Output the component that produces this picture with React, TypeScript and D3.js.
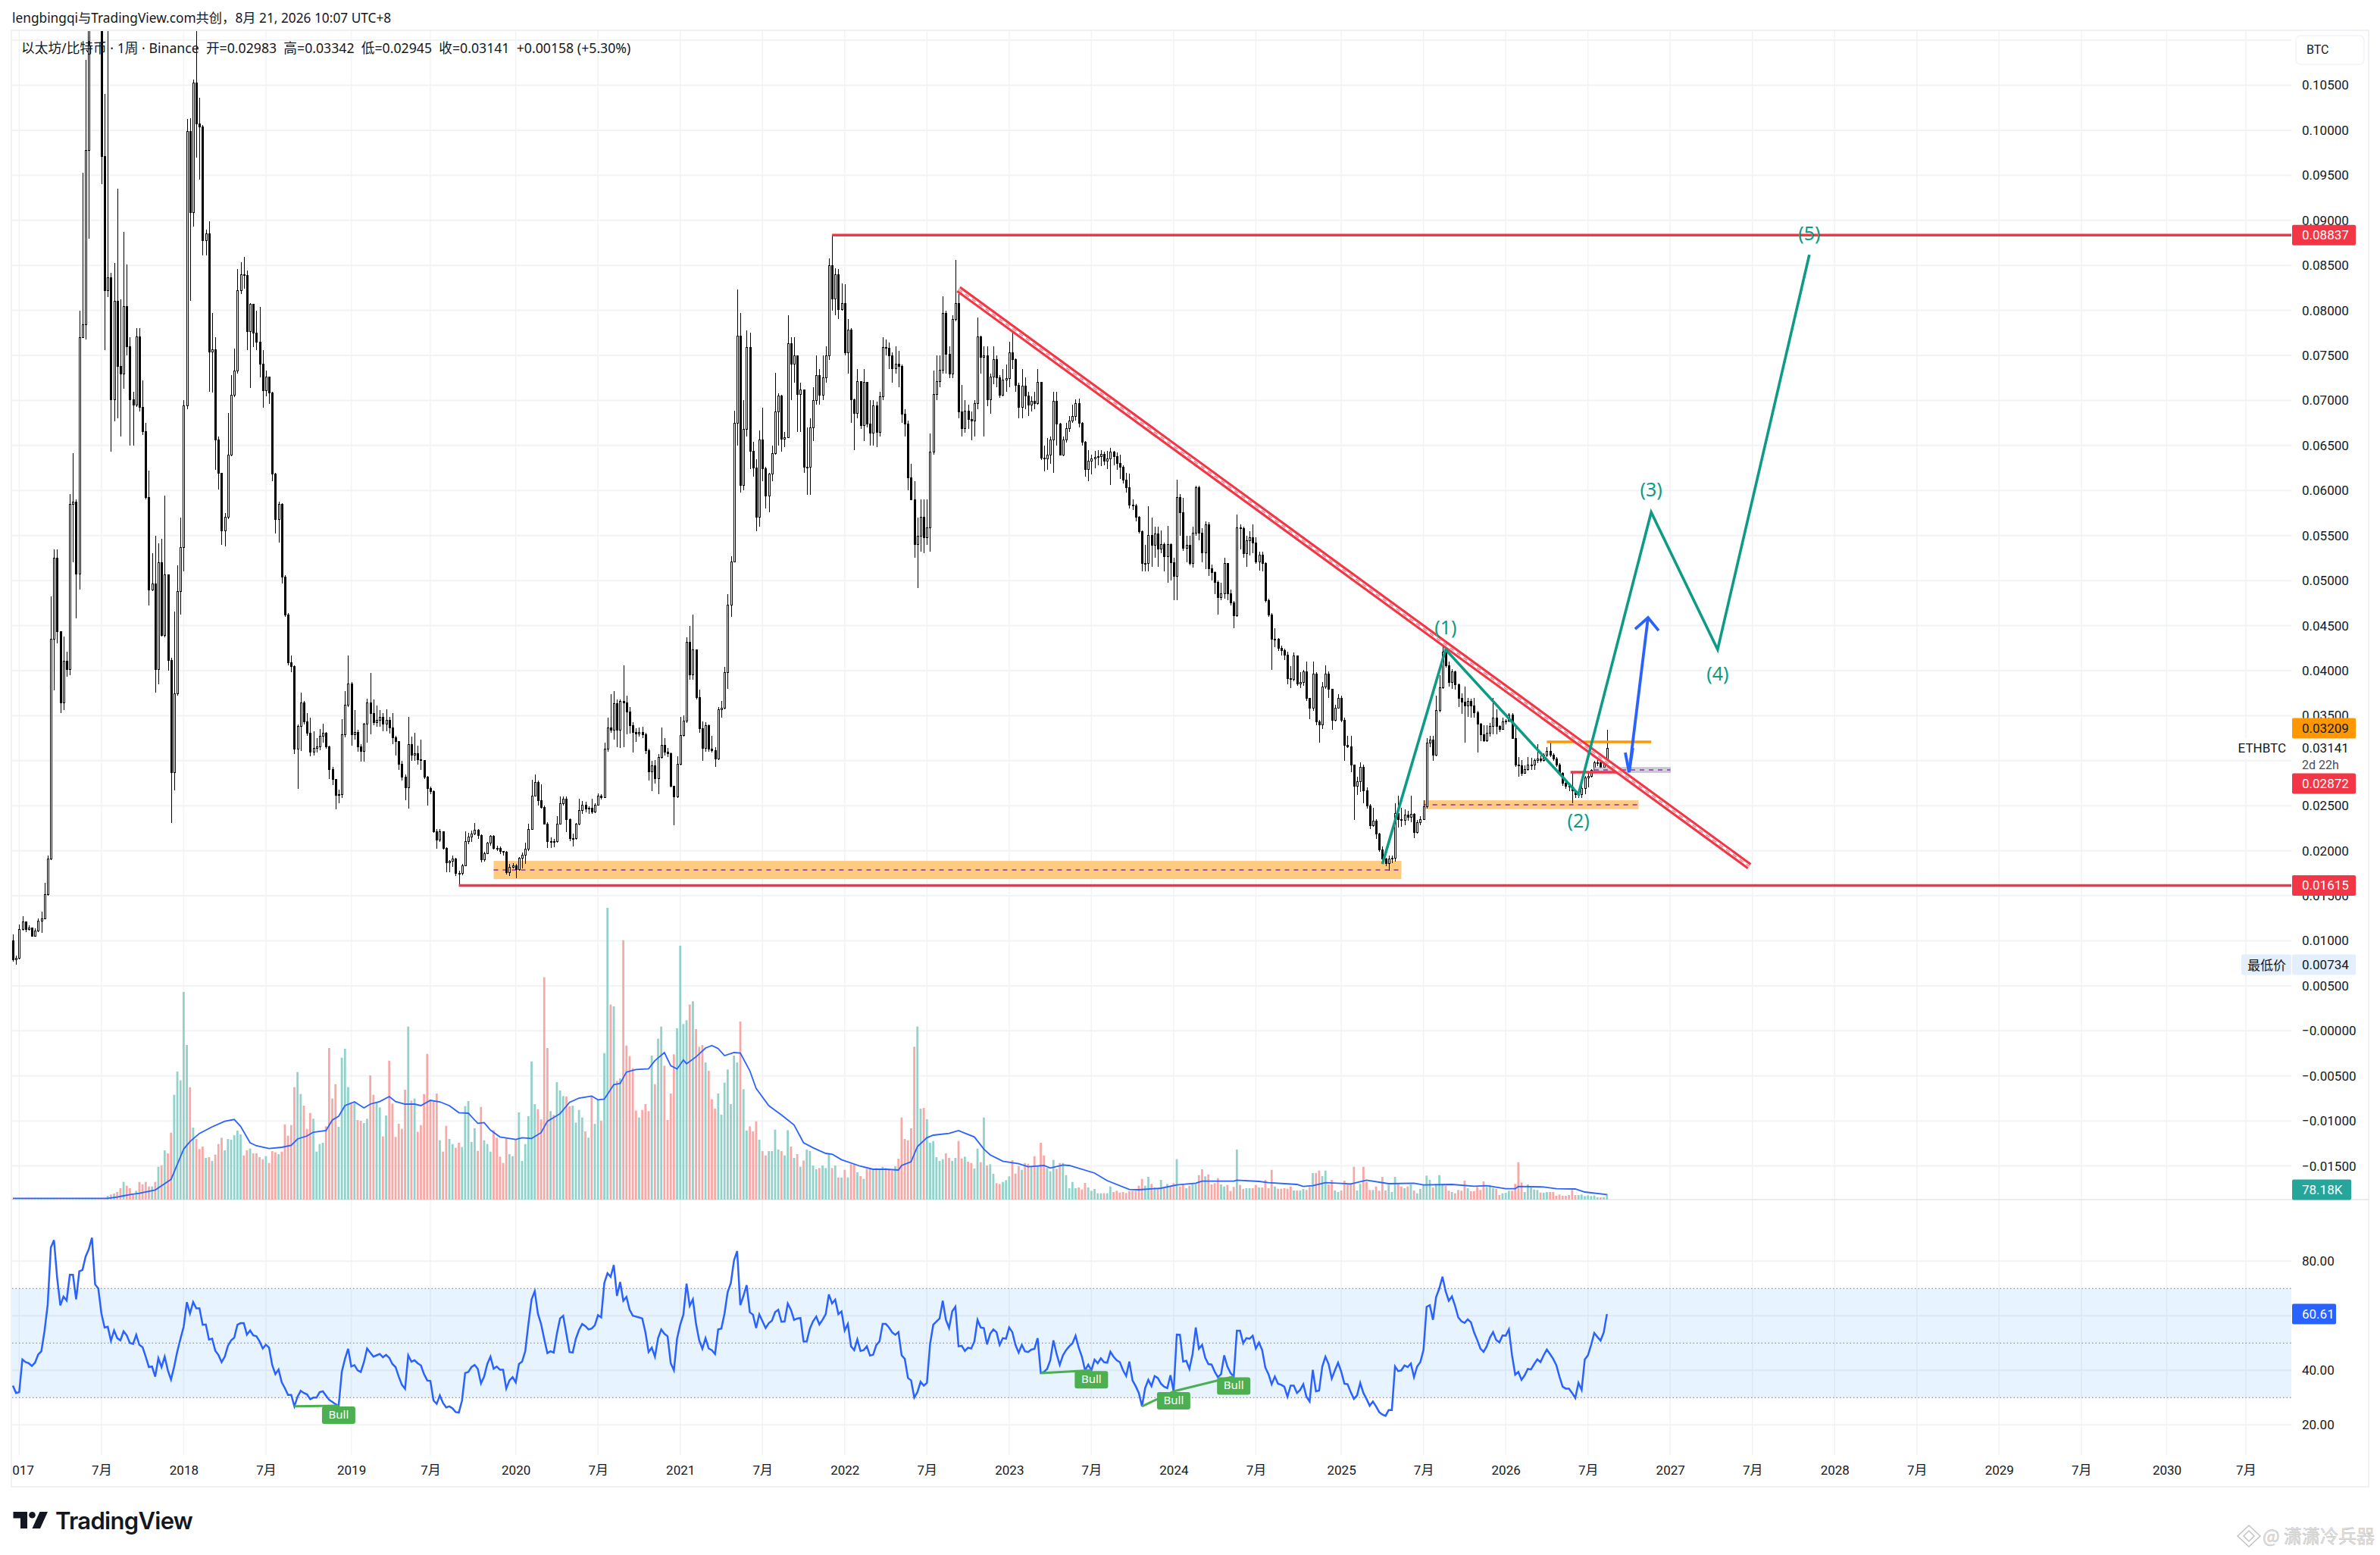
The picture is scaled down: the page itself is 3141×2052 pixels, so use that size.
import * as d3 from "d3";
import { useEffect, useRef } from "react";

const WIDTH = 3141;
const HEIGHT = 2052;
const PANE = { left: 16, right: 3024, top: 41, volBase: 1583, timeTop: 1920, bottom: 1962, frameRight: 3126 };
const UI_FONT = "'Noto Sans', 'Noto Sans CJK SC', sans-serif";
const AXIS_FONT = "Roboto, 'Noto Sans CJK SC', sans-serif";

const RED = "#f23645";
const ORANGE = "#ff9800";
const TEAL = "#0e9b85";
const BLUE = "#2962ff";
const GRID = "#f2f3f5";

// weekly closes / highs / lows, in 1e-5 BTC. open = previous close
const FIRST_OPEN = 1000;
const CLOSES = [
  790,805,1128,1208,1128,1140,1050,1110,1215,1245,1515,1911,4347,5250,4430,3640,4107,4010,5849,5870,
  5073,7697,7840,9775,11800,13500,14800,13500,9711,8223,8359,7006,8103,7380,7290,8047,7596,7006,6950,7709,
  6920,6657,5924,4896,4960,4010,5202,4387,5066,4113,2867,3743,4880,5363,6939,9989,9088,10527,10075,10040,
  8772,8850,7540,7560,6563,6188,5550,5706,6392,7059,7329,8223,8396,8390,7765,8066,7746,7650,7405,7108,
  7258,7087,6187,5680,5847,5040,4622,4091,4050,3125,3382,3640,3431,3302,3093,3140,3155,3270,3302,3157,
  2899,2793,2619,2625,3286,3618,3856,3286,3318,3157,3102,3405,3646,3527,3424,3446,3480,3405,3446,3366,
  3254,3210,2964,2819,2697,3180,3060,3080,3010,3000,2820,2690,2660,2213,2120,2215,2030,1870,1880,1905,
  1750,1745,1835,2105,2150,2190,2230,2170,1900,1965,2085,2165,2030,2025,1995,1985,1760,1820,1835,1790,
  1915,1950,2020,2240,2610,2760,2560,2480,2300,2105,2105,2100,2300,2522,2570,2350,2140,2140,2295,2450,
  2510,2460,2470,2430,2510,2610,2590,3125,3365,3340,3630,3340,3660,3640,3540,3390,3310,3300,3310,3290,
  3115,2875,2945,2800,3035,3168,3095,3075,2720,2600,2960,3280,3440,4316,3955,4230,3705,3360,3140,3390,
  3130,3110,3020,3565,3585,3980,4725,5208,6744,7716,6056,6683,7585,6432,6250,5706,6563,6244,5943,6180,
  6412,6871,7051,6570,6590,7634,7400,7500,7070,7120,6257,6260,6700,7000,7280,7060,7250,7500,8500,8130,
  8400,8010,8080,7530,7780,7010,6860,7210,6720,7200,6740,6640,6940,6650,7040,7590,7580,7500,7350,7400,
  7380,6850,6740,6140,5900,5400,5490,5700,5480,5590,6430,7063,7210,7340,7966,7516,7290,7900,8078,6870,
  6690,6880,6790,6770,6970,7710,7480,7500,7010,7260,7450,7250,7060,7230,7240,7530,7450,7170,6920,7160,
  7050,6950,6990,6970,7200,6360,6350,6390,6560,6990,6740,6395,6560,6690,6770,6820,6970,6750,6540,6230,
  6330,6350,6370,6380,6400,6330,6350,6430,6380,6300,6260,6120,6030,5840,5830,5700,5540,5190,5190,5500,
  5390,5520,5350,5400,5270,5400,5200,5050,5925,5750,5360,5390,5190,5530,6030,5530,5310,5620,5130,5090,
  4980,4810,4850,5190,4850,4750,4610,5585,5580,5300,5440,5480,5420,5210,5280,5190,4780,4620,4350,4350,
  4250,4220,4170,3910,3900,4160,3850,3870,3990,3690,3580,3960,3430,3400,3820,3960,3790,3447,3580,3690,
  3447,3175,3150,2950,2720,2765,2930,2670,2500,2275,2330,2185,2010,1910,1860,1910,1920,2415,2345,2340,
  2400,2375,2405,2205,2310,2345,2490,3200,3230,3060,3560,3810,4210,4055,3870,3985,3845,3690,3650,3605,
  3660,3605,3530,3410,3285,3220,3305,3380,3470,3380,3350,3430,3440,3505,3250,2950,2940,2860,2900,2950,
  2950,3000,3020,3000,3060,3100,3065,3020,2950,2860,2750,2720,2710,2665,2625,2625,2690,2807,2828,2890,
  2975,2980,2930,2983,3141,
];
const HIGHS = [
  1074,840,1177,1273,1210,1175,1150,1135,1250,1320,1644,1950,4822,5350,5347,4440,4380,4210,5960,6413,
  5900,8000,9531,10778,12500,14200,15500,15200,13800,10400,11200,8420,8524,9354,8120,8873,8509,7700,7100,7800,
  7800,7220,6750,6225,5300,5500,5411,5460,5943,5060,4140,4654,5170,5700,7000,10124,10130,10564,11600,10360,
  10060,8900,8986,7970,7700,6600,6200,5750,6864,7280,7577,8460,8535,8592,8440,8080,8070,8000,8040,7560,
  7330,7260,7100,6200,5880,5860,5060,4640,4170,4060,3400,3753,3660,3530,3480,3330,3250,3350,3410,3320,
  3170,2930,2800,2680,3460,3770,4171,3870,3560,3340,3180,3420,3690,3978,3680,3610,3560,3530,3570,3490,
  3530,3280,3220,3000,2850,3485,3270,3310,3170,3230,3010,2830,2710,2670,2240,2245,2220,2040,1900,1950,
  1920,1780,1850,2220,2200,2225,2305,2240,2180,1990,2100,2170,2175,2060,2050,2000,2000,1850,1860,1850,
  1930,1980,2090,2300,2790,2850,2780,2740,2500,2320,2150,2130,2380,2600,2600,2600,2360,2190,2310,2580,
  2550,2540,2490,2580,2530,2640,2630,3200,3480,3740,3770,3680,3680,4060,3720,3600,3430,3360,3370,3380,
  3310,3130,3000,3010,3070,3370,3250,3140,3090,2720,3045,3490,3500,4370,4500,4620,4230,3790,3440,3430,
  3400,3280,3150,3600,3660,4040,4850,5270,6890,8235,7970,7000,7780,7750,6540,6350,6670,6920,6260,6200,
  6500,7310,7080,7060,6650,7950,7700,7700,7200,7200,7100,6700,6800,7150,7500,7350,7500,7600,8580,8837,
  8470,8460,8300,8290,7900,7800,7020,7350,7200,7350,7200,7000,7000,6990,7100,7700,7680,7640,7530,7600,
  7550,7400,6900,6780,6300,6100,5700,5900,5900,5900,6630,7330,7500,7500,8160,8000,7600,7950,8563,8180,
  7170,7000,6950,6880,7000,7925,7720,7600,7600,7300,7600,7500,7280,7350,7400,7650,7800,7470,7200,7350,
  7260,7100,7050,7100,7350,7200,6500,6580,6600,7100,7100,6750,6600,6750,6830,6950,7010,7020,6760,6550,
  6450,6400,6440,6450,6450,6430,6440,6470,6440,6420,6400,6280,6200,6190,5900,5850,5720,5560,5400,5824,
  5700,5600,5600,5560,5420,5610,5410,5250,6120,5960,5920,5500,5500,5600,6050,6050,5580,5660,5650,5180,
  5100,5000,4980,5250,5190,4900,4770,5730,5620,5600,5500,5550,5620,5480,5320,5320,5200,4800,4640,4470,
  4360,4280,4240,4210,4050,4200,4170,3980,4010,4100,3700,4100,3980,3450,3870,4060,3990,3790,3620,3740,
  3720,3480,3280,3280,2950,2820,2980,2960,2700,2520,2480,2350,2200,2050,1925,1950,1945,2530,2610,2480,
  2460,2440,2610,2420,2340,2380,2560,3250,3280,3280,3720,3950,4340,4320,4100,4020,4000,3860,3750,3820,
  3700,3690,3700,3550,3420,3390,3390,3420,3700,3570,3390,3480,3460,3530,3530,3380,3040,3010,2950,3040,
  3030,3020,3180,3060,3080,3150,3210,3080,3040,2970,2870,2760,2740,2870,2680,2690,2770,2830,2860,2910,
  3000,3020,2990,3000,3342,
];
const LOWS = [
  770,736,790,1110,1100,1110,1045,1060,1100,1090,1240,1500,1900,3780,4300,3527,3560,3930,3950,5200,
  4583,4896,7700,7680,8800,11300,12800,12600,9400,7560,8150,6431,6770,6800,6600,7130,7500,6500,6500,6930,
  6880,6620,5900,4720,4880,3759,3849,4380,4370,4000,2310,2674,3720,4620,5105,6900,8103,8930,9700,9450,
  8610,8610,7100,7090,6230,6010,5400,5380,5680,6380,7040,7300,8180,8240,7560,7140,7590,7560,7260,6920,
  7050,6960,6100,5520,5420,4970,4600,4060,3980,3070,2690,3110,3400,3280,3050,3060,3090,3120,3200,3130,
  2800,2730,2460,2530,2590,3260,3600,3170,3230,3100,2990,2990,3200,3290,3390,3380,3380,3330,3330,3300,
  3180,3060,2900,2780,2560,2470,3000,3000,2960,2900,2800,2500,2630,2200,2020,2100,2015,1760,1760,1820,
  1720,1615,1730,1825,2070,2100,2170,2130,1870,1880,1960,2060,2010,2000,1960,1950,1740,1720,1800,1690,
  1780,1800,1850,2000,2230,2600,2500,2470,2290,2030,2030,2040,2090,2290,2500,2210,2110,2050,2120,2280,
  2410,2430,2410,2410,2420,2500,2570,2590,3100,3310,3230,3150,3140,3150,3290,3300,3090,3210,3270,3250,
  3070,2780,2660,2750,2630,3020,3060,3040,2700,2280,2590,2950,3270,3420,3900,3900,3680,3310,3000,3100,
  3100,3090,2930,3010,3480,3570,3800,4600,5200,6500,5980,6000,6600,6240,6150,5550,5600,6100,5800,5760,
  6100,6400,6500,6430,6480,6580,7000,7200,6650,6650,6200,5950,5950,6550,6950,6950,7000,7200,7450,8000,
  7950,7900,8000,7500,7300,6750,6450,6800,6680,6550,6700,6500,6500,6480,6600,7000,7500,7350,7200,7300,
  7150,6750,6600,6000,5900,5250,4916,5320,5300,5400,5320,6400,7000,7150,7300,7300,7250,7250,7880,6800,
  6600,6640,6680,6560,6600,6900,7300,6600,6940,6850,7180,7150,7030,7050,7100,7150,7350,7100,6800,6800,
  6900,6830,6880,6900,6950,6340,6210,6230,6300,6200,6500,6390,6380,6530,6650,6750,6780,6700,6500,6150,
  6100,6180,6250,6280,6270,6280,6240,6060,6280,6230,6130,6080,5980,5800,5780,5660,5520,5100,5100,5100,
  5150,5250,5150,5300,5100,4975,5000,4780,4780,5500,5330,5200,5170,5140,5500,5450,5200,5130,5050,5000,
  4850,4620,4780,4800,4780,4720,4470,4600,5350,5250,5150,5280,5300,5190,5110,5100,4760,4600,4010,4260,
  4220,4170,4120,3850,3810,3880,3830,3810,3830,3660,3460,3550,3390,3200,3350,3800,3700,3340,3440,3580,
  3430,3000,3140,2870,2340,2620,2650,2530,2470,2240,2270,2130,1990,1880,1830,1780,1860,1880,2260,2270,
  2280,2330,2320,2140,2190,2280,2340,2470,3150,3000,3050,3540,3800,4030,3820,3800,3790,3600,3520,3200,
  3490,3480,3480,3090,3220,3210,3210,3270,3290,3290,3320,3350,3400,3430,3240,2930,2820,2830,2860,2890,
  2900,2900,2970,2980,2990,3040,3040,3000,2930,2840,2720,2690,2660,2530,2590,2590,2590,2630,2700,2810,
  2880,2940,2910,2900,2945,
];

// volume in units of about 3.55K (last bar = 78.18K)
const VOLUMES = [
  2,2,2,2,2,2,2,2,2,2,2,2,2,2,2,2,2,2,2,2,
  2,2,2,2,2,2,2,2,2,2,15,20,24,30,45,70,55,45,24,35,
  70,60,70,52,52,70,130,135,195,183,265,415,507,472,822,612,445,285,240,200,
  210,165,168,153,178,220,245,195,240,237,255,273,258,175,195,202,183,183,168,160,
  172,145,192,187,180,190,298,253,295,445,505,418,372,280,343,320,190,220,225,290,
  600,400,457,288,562,597,445,385,385,315,312,303,320,492,415,385,365,250,333,550,
  380,248,300,280,435,685,392,400,268,295,418,577,395,390,420,235,190,292,240,220,
  205,225,208,370,390,228,282,193,367,235,220,190,275,245,170,145,242,180,172,240,
  345,153,220,330,547,378,358,318,880,600,350,335,465,432,410,408,370,372,305,355,
  325,270,245,410,300,395,312,580,1155,772,765,470,480,1027,610,568,520,352,325,355,
  378,350,570,457,637,685,530,315,420,575,678,1005,695,710,772,785,675,605,612,543,
  510,397,360,420,336,463,515,378,570,543,705,437,273,290,270,310,237,192,175,192,
  192,277,198,192,175,275,210,165,180,130,155,198,192,135,120,125,135,125,180,125,
  135,87,87,118,88,140,138,108,93,82,122,122,120,125,120,130,125,122,115,132,
  162,325,240,235,282,605,685,360,363,318,225,232,168,153,160,183,165,153,165,232,
  163,170,150,145,123,202,148,325,135,140,102,65,62,70,77,92,156,103,133,118,
  145,142,130,172,133,225,175,125,112,157,122,145,145,97,45,70,45,48,40,66,
  48,35,42,25,25,25,25,52,30,35,28,30,26,34,35,35,55,82,55,90,
  62,48,45,78,45,62,55,65,160,52,60,45,55,62,62,97,120,92,100,60,
  65,85,60,52,58,34,50,198,58,42,45,45,45,58,48,48,78,45,118,52,
  43,43,45,43,52,36,36,36,42,38,50,105,105,115,93,115,60,78,36,30,
  36,75,60,65,130,36,62,130,70,38,38,52,35,90,36,58,30,90,62,52,
  45,52,60,36,25,42,60,95,78,48,62,97,62,55,35,30,25,38,35,75,
  45,33,33,50,38,72,50,58,45,42,18,25,27,35,35,62,148,68,30,60,
  48,40,38,28,27,30,30,30,15,20,15,15,18,38,18,18,20,14,17,14,
  16,9,9,9,22,
];

// volume moving average, read at its turning points: bar index, value
const VOL_MA_BARS = [0,30,33,35,37,40,45,47,50,52,54,56,59,63,67,70,72,75,77,81,85,88,90,93,95,99,101,103,105,108,111,113,116,119,121,124,127,129,132,135,138,141,144,146,147,149,151,154,159,161,164,167,169,173,176,179,183,185,187,190,192,194,197,201,203,206,208,210,212,213,216,219,221,223,225,228,230,233,235,239,243,247,250,253,257,259,262,268,272,276,280,281,284,286,289,291,296,299,304,307,309,313,318,321,326,328,332,334,342,346,353,356,363,368,374,376,386,387,394,397,406,408,411,415,423,428,435,443,446,455,462,466,472,475,476,484,488,494,497,504];
const VOL_MA_VALUES = [5,5,10,15,20,25,38,55,80,140,200,230,262,288,310,317,290,225,213,202,207,215,240,252,267,273,315,330,372,387,363,378,388,408,388,378,378,372,393,387,372,344,342,315,302,305,275,248,238,245,242,265,310,340,385,402,410,395,398,455,460,505,515,518,550,582,530,517,553,538,565,600,610,598,570,582,580,510,440,372,335,295,225,205,183,180,158,132,120,120,117,135,150,210,245,255,262,273,248,200,177,152,142,130,135,125,137,135,105,75,40,39,45,58,65,73,73,77,72,67,60,52,55,67,62,77,63,65,58,60,53,55,43,43,52,50,43,42,30,20];

const RSI = [
  34.4,31.7,32,44,43,42.6,41.6,42.8,45.8,47,54.4,64,85,87.7,73.8,63.8,67,65.6,75,75,
  66,76.3,76.8,81.7,84.4,88.6,71.5,70,60.8,55.7,56,50.8,54.6,51.8,51,54.3,52.8,50,49.7,53,
  49.3,48.5,45,41.2,41.4,37.7,44.4,41.2,45,40,36.6,41.4,47,51.6,56,65,60.8,65,62.7,62.7,
  56.7,56.8,51.3,51.6,47.2,45.6,43,45,49,51,52,56.7,57.3,57.3,53.1,54.6,52.8,52.5,50.6,48,
  49.4,48.3,41.9,38.6,40.3,35.6,33.5,31,31,26.8,30.3,32.5,31.7,31.2,29.4,30,30,32,32.3,30.7,
  29.2,28.4,27.6,27,39.5,44.2,47.9,41.4,41.9,40,39.4,43,48,46.5,45,45.5,46,44.8,45.7,44.6,
  42.3,41.2,37.7,34.7,33.2,45.5,43.2,43.7,42.6,41.8,38.6,36.3,36.1,28.9,27.7,30.8,28,26.4,26.8,26.1,
  24.7,24.5,28.9,39,39.4,41.2,42,40.5,35.2,37.7,42.3,45,40.6,41.4,40.2,40.2,33.3,36.3,37.5,35.6,
  42.3,43.2,47,57,66,69,60.8,57,51.5,46.3,47,46.5,53.4,59,60,53.4,46.7,46.5,51.6,54.8,
  57,56.2,55,55.3,56.5,60.2,59.4,72,75.6,74.3,78.6,67.3,72.4,65.5,66.9,62.2,60,59.7,59.4,59,
  53.9,46.7,48.3,45,51.8,55,53.4,52.5,42.6,40,51.6,56.7,60.4,71.8,63.6,66,57,51,47.9,51.8,
  48,47.4,46,55,55.3,60.8,68.7,72,80.3,83.7,63.9,67.3,71.2,61.3,60.4,55.5,60.5,58,55.5,57.3,
  58.2,61.3,62.2,57.8,57.9,64.5,62.2,58.5,59,59.2,50.6,50.6,55.3,58,59.7,56.8,58.5,60.6,67.8,64.5,
  65.9,60.6,61.6,54.6,57,48.8,47.4,51.3,47.1,47.4,48.8,45.4,45.7,49.3,50.6,57,57,55.7,53.9,53,
  54,45.5,44.2,37.2,36.3,30,32,35.8,34.4,35.4,49.7,56.7,57.9,59,65.5,58.5,55.5,61.6,63.3,48.8,
  49,47.1,48.3,48,50.6,58.5,55.7,55.5,49.5,53.4,55,54,49.3,51.8,51.6,55.7,54,49.3,46.5,49.3,
  47,46.7,47.6,47.9,51.8,39,39.4,40.5,43.7,51,46,42,45.5,47.4,48.8,49.9,52.7,48.3,45,40,
  42.1,40,43.9,42.6,44.4,43,42.8,46.8,45,43.7,43,40,37.9,43.2,36.3,34.2,31.7,26.8,33.5,36.5,
  34.2,37.9,37.2,35.1,34,33.5,38.2,32.3,53.1,53,43.2,43.5,40.5,46,55.7,47.9,49.3,44.6,42.3,42.1,
  39.5,37.5,38.6,45.5,41.4,39,37.7,54.5,54.5,49.9,51.8,51.6,52.7,48,50.2,47.4,41,38.6,34.9,37.7,
  35.1,34.7,34,30.3,34.4,34.4,31.7,32.8,34.9,30.3,28.6,40.2,32.3,32.6,41.4,45,42.3,37,40,42.8,
  39.5,35.1,34.9,32,29.5,30.8,35.4,31.7,29.5,27,28.6,26.8,24.7,23.8,23.3,25.4,25.4,41.4,39.7,40,
  41.8,41.2,42.5,37.5,41.4,43,47.4,63.3,63.9,58.5,66.9,70,74.3,69,65.5,67.1,63.6,59.4,58,57.4,
  58.7,57.6,53.9,51.1,48,46.8,48.8,52,54,51.1,50.2,52.8,52.7,55,45.5,38.4,39.4,36.5,38.2,40.5,
  40.3,42.3,44,43,45.5,47.6,46,44.2,41.9,37.7,34,33.3,33.3,31.7,29.8,35.4,32.8,44,45.5,49.3,
  53.7,52.2,50.9,53.9,60.61,
];

// pivots of the bullish divergences, bar indexes into RSI
const BULL_FROM = [89, 325, 357, 367];
const BULL_TO = [103, 341, 367, 386];

const PRICE_TICKS = [0.105,0.1,0.095,0.09,0.085,0.08,0.075,0.07,0.065,0.06,0.055,0.05,0.045,0.04,0.035,0.03,0.025,0.02,0.015,0.01,0.005,0,-0.005,-0.01,-0.015];
const RSI_TICKS = [80, 60, 40, 20];
const TIME_TICKS = [2,28,54,80,107,132,159,185,211,237,263,289,315,341,367,393,420,446,472,498,524,550,576,602,628,654,681,706];
const TIME_LABELS = ["2017","7月","2018","7月","2019","7月","2020","7月","2021","7月","2022","7月","2023","7月","2024","7月","2025","7月","2026","7月","2027","7月","2028","7月","2029","7月","2030","7月"];

// drawings, bar index and price (1e-5 BTC)
const TOP_LINE = { from: 259, price: 8837 };
const BOTTOM_LINE = { from: 141, price: 1615 };
const TREND_BARS = [299, 549];
const TREND_PRICES = [8236, 1828];
const WAVE_BARS = [433, 453, 495, 518, 539, 568];
const WAVE_PRICES = [1853, 4235, 2627, 5758, 4235, 8619];
const WAVE_NAMES = ["(1)", "(2)", "(3)", "(4)", "(5)"];
const WAVE_NAME_BARS = [453, 495, 518, 539, 568];
const WAVE_NAME_PRICES = [4460, 2315, 5995, 3950, 8835];
const ZONE_BARS = [[152, 439], [446, 514]];
const ZONE_PRICES = [[1887, 1685], [2560, 2462]];
const GREY_BARS = [500, 524];
const GREY_PRICES = [2922, 2872];
const ORANGE_LINE = { from: 485, to: 518, price: 3209 };
const RED_SHORT = { from: 492.5, to: 507, price: 2872 };
const ARROW_BARS = [517, 511];
const ARROW_PRICES = [4588, 2872];

export default function App() {
  const svgRef = useRef<SVGSVGElement>(null);

  useEffect(() => {
    if (!svgRef.current) return;
    const svg = d3.select(svgRef.current);
    svg.selectAll("*").remove();

    const x = d3.scaleLinear().domain([0, 720.4]).range([17, PANE.right]);
    const y = d3.scaleLinear().domain([-1500, 10500]).range([1538.6, 112.5]);
    const yPrice = d3.scaleLinear().domain([-0.015, 0.105]).range([1538.6, 112.5]);
    const yVol = d3.scaleLinear().domain([0, 1155]).range([PANE.volBase, 1198]);
    const yRsi = d3.scaleLinear().domain([20, 80]).range([1880.3, 1664.3]);

    const defs = svg.append("defs");
    defs.append("clipPath").attr("id", "main").append("rect")
      .attr("x", PANE.left).attr("y", PANE.top).attr("width", PANE.right - PANE.left).attr("height", PANE.volBase - PANE.top);
    defs.append("clipPath").attr("id", "time").append("rect")
      .attr("x", PANE.left).attr("y", PANE.timeTop).attr("width", PANE.frameRight - PANE.left).attr("height", 42);

    svg.append("rect").attr("width", WIDTH).attr("height", HEIGHT).attr("fill", "#fff");

    // grid
    const grid = svg.append("g");
    [...PRICE_TICKS, 0.11].forEach((t) => {
      grid.append("line").attr("x1", PANE.left).attr("x2", PANE.right).attr("y1", yPrice(t)).attr("y2", yPrice(t))
        .attr("stroke", GRID).attr("stroke-width", 2);
    });
    RSI_TICKS.forEach((t) => {
      grid.append("line").attr("x1", PANE.left).attr("x2", PANE.right).attr("y1", yRsi(t)).attr("y2", yRsi(t))
        .attr("stroke", GRID).attr("stroke-width", 2);
    });
    TIME_TICKS.forEach((t) => {
      grid.append("line").attr("x1", x(t)).attr("x2", x(t)).attr("y1", PANE.top).attr("y2", PANE.timeTop)
        .attr("stroke", GRID).attr("stroke-width", 1.5);
    });

    // frame
    svg.append("rect").attr("x", 15).attr("y", 40).attr("width", PANE.frameRight - 15).attr("height", PANE.bottom - 40)
      .attr("fill", "none").attr("stroke", "#f0f1f3").attr("stroke-width", 2);
    svg.append("line").attr("x1", 15).attr("x2", PANE.frameRight).attr("y1", PANE.volBase).attr("y2", PANE.volBase)
      .attr("stroke", "#e3e5ea").attr("stroke-width", 1.5);

    const main = svg.append("g").attr("clip-path", "url(#main)");

    // volume
    main.append("g").selectAll("rect").data(VOLUMES).join("rect")
      .attr("x", (_, i) => x(i) - 1.4)
      .attr("width", 2.8)
      .attr("y", (d) => yVol(d))
      .attr("height", (d) => PANE.volBase - yVol(d))
      .attr("fill", (_, i) => (CLOSES[i] >= (i ? CLOSES[i - 1] : FIRST_OPEN) ? "#92d2ca" : "#f7a9a7"));
    const maLine = d3.line<number>().x((_, i) => x(VOL_MA_BARS[i])).y((d) => yVol(d));
    main.append("path").attr("d", maLine(VOL_MA_VALUES)).attr("fill", "none").attr("stroke", BLUE).attr("stroke-width", 1.8);

    // zones below the candles
    ZONE_BARS.forEach((b, k) => {
      main.append("rect").attr("x", x(b[0])).attr("width", x(b[1]) - x(b[0]))
        .attr("y", y(ZONE_PRICES[k][0])).attr("height", y(ZONE_PRICES[k][1]) - y(ZONE_PRICES[k][0]))
        .attr("fill", "#ffcb80");
      const mid = (ZONE_PRICES[k][0] + ZONE_PRICES[k][1]) / 2;
      main.append("line").attr("x1", x(b[0])).attr("x2", x(b[1])).attr("y1", y(mid)).attr("y2", y(mid))
        .attr("stroke", "#9c27b0").attr("stroke-width", 1.5).attr("stroke-dasharray", "6 6");
    });

    // candles
    const candles = main.append("g").attr("shape-rendering", "crispEdges");
    candles.selectAll("line").data(CLOSES).join("line")
      .attr("x1", (_, i) => Math.round(x(i)) + 0.5).attr("x2", (_, i) => Math.round(x(i)) + 0.5)
      .attr("y1", (_, i) => y(HIGHS[i])).attr("y2", (_, i) => y(LOWS[i]))
      .attr("stroke", "#000").attr("stroke-width", 1);
    candles.selectAll("rect").data(CLOSES).join("rect")
      .attr("x", (_, i) => Math.round(x(i)) - 0.5)
      .attr("width", 2)
      .attr("y", (d, i) => y(Math.max(d, i ? CLOSES[i - 1] : FIRST_OPEN)))
      .attr("height", (d, i) => Math.max(1, Math.abs(y(d) - y(i ? CLOSES[i - 1] : FIRST_OPEN))))
      .attr("fill", (d, i) => (d >= (i ? CLOSES[i - 1] : FIRST_OPEN) ? "#fff" : "#000"))
      .attr("stroke", "#000").attr("stroke-width", 1);

    // horizontal levels
    const hLine = (from: number, to: number, price: number, color: string, w: number) =>
      main.append("line").attr("x1", x(from)).attr("x2", to).attr("y1", y(price)).attr("y2", y(price))
        .attr("stroke", color).attr("stroke-width", w);
    hLine(TOP_LINE.from, PANE.right, TOP_LINE.price, RED, 3.5);
    hLine(BOTTOM_LINE.from, PANE.right, BOTTOM_LINE.price, RED, 3.5);

    // grey zone
    main.append("rect").attr("x", x(GREY_BARS[0])).attr("width", x(GREY_BARS[1]) - x(GREY_BARS[0]))
      .attr("y", y(GREY_PRICES[0])).attr("height", y(GREY_PRICES[1]) - y(GREY_PRICES[0]))
      .attr("fill", "#d1d4dc").attr("stroke", "#a8aab0").attr("stroke-width", 1);
    main.append("line").attr("x1", x(GREY_BARS[0])).attr("x2", x(GREY_BARS[1]))
      .attr("y1", y(d3.mean(GREY_PRICES)!)).attr("y2", y(d3.mean(GREY_PRICES)!))
      .attr("stroke", "#9c27b0").attr("stroke-width", 1.5).attr("stroke-dasharray", "6 6");

    hLine(RED_SHORT.from, x(RED_SHORT.to), RED_SHORT.price, RED, 3.5);
    hLine(ORANGE_LINE.from, x(ORANGE_LINE.to), ORANGE_LINE.price, ORANGE, 3.5);

    // falling trend channel
    const trend = d3.line<number>().x((_, i) => x(TREND_BARS[i])).y((d) => y(d));
    main.append("path").attr("d", trend(TREND_PRICES)).attr("stroke", RED).attr("stroke-width", 9.5).attr("fill", "none");
    main.append("path").attr("d", trend(TREND_PRICES)).attr("stroke", "#fff").attr("stroke-width", 3.2).attr("fill", "none");
    main.append("path").attr("d", trend(TREND_PRICES)).attr("stroke", "#f58a94").attr("stroke-width", 1.6)
      .attr("stroke-dasharray", "6 5").attr("fill", "none");

    // elliott wave count
    const wave = d3.line<number>().x((_, i) => x(WAVE_BARS[i])).y((d) => y(d));
    main.append("path").attr("d", wave(WAVE_PRICES)).attr("stroke", TEAL).attr("stroke-width", 3.6)
      .attr("fill", "none").attr("stroke-linejoin", "miter");
    WAVE_NAMES.forEach((t, i) => {
      main.append("text").attr("x", x(WAVE_NAME_BARS[i])).attr("y", y(WAVE_NAME_PRICES[i]))
        .attr("text-anchor", "middle").attr("dominant-baseline", "middle")
        .attr("font-family", UI_FONT).attr("font-size", 25).attr("fill", TEAL).text(t);
    });

    // blue arrow, heads at both ends
    const arrow = d3.line<number>().x((_, i) => x(ARROW_BARS[i])).y((d) => y(d));
    main.append("path").attr("d", arrow(ARROW_PRICES)).attr("stroke", BLUE).attr("stroke-width", 3.8).attr("fill", "none");
    const head = d3.line<[number, number]>();
    const ax0 = x(ARROW_BARS[0]), ay0 = y(ARROW_PRICES[0]);
    const ax1 = x(ARROW_BARS[1]), ay1 = y(ARROW_PRICES[1]);
    main.append("path").attr("d", head([[ax0 - 17, ay0 + 15], [ax0, ay0], [ax0 + 14, ay0 + 17]]))
      .attr("stroke", BLUE).attr("stroke-width", 3.8).attr("fill", "none");
    main.append("path").attr("d", head([[ax1 - 5, ay1 - 26], [ax1, ay1], [ax1 + 5, ay1 - 32]]))
      .attr("stroke", BLUE).attr("stroke-width", 3.8).attr("fill", "none");

    // rsi pane
    svg.append("rect").attr("x", PANE.left).attr("width", PANE.right - PANE.left)
      .attr("y", yRsi(70)).attr("height", yRsi(30) - yRsi(70)).attr("fill", "#2196f3").attr("opacity", 0.11);
    [70, 50, 30].forEach((t) => {
      svg.append("line").attr("x1", PANE.left).attr("x2", PANE.right).attr("y1", yRsi(t)).attr("y2", yRsi(t))
        .attr("stroke", "#787b86").attr("stroke-width", 1).attr("stroke-dasharray", "1.5 3");
    });
    const rsiLine = d3.line<number>().x((_, i) => x(i)).y((d) => yRsi(d));
    svg.append("path").attr("d", rsiLine(RSI)).attr("fill", "none").attr("stroke", BLUE).attr("stroke-width", 2.5);

    BULL_FROM.forEach((from, k) => {
      const to = BULL_TO[k];
      svg.append("line").attr("x1", x(from)).attr("y1", yRsi(RSI[from])).attr("x2", x(to)).attr("y2", yRsi(RSI[to]))
        .attr("stroke", "#4caf50").attr("stroke-width", 3);
    });
    BULL_TO.forEach((to) => {
      svg.append("rect").attr("x", x(to) - 22).attr("y", yRsi(RSI[to]) + 1).attr("width", 44).attr("height", 23)
        .attr("rx", 3).attr("fill", "#4caf50");
      svg.append("text").attr("x", x(to)).attr("y", yRsi(RSI[to]) + 12.5)
        .attr("text-anchor", "middle").attr("dominant-baseline", "middle")
        .attr("font-family", UI_FONT).attr("font-size", 15).attr("fill", "#fff").text("Bull");
    });

    // price axis
    const priceAxis = svg.append("g").attr("transform", `translate(${PANE.right},0)`)
      .call(
        d3.axisRight(yPrice).tickValues(PRICE_TICKS).tickSize(0).tickPadding(14)
          .tickFormat((d) => {
            const v = +d;
            return v <= 0 ? `−${Math.abs(v).toFixed(5)}` : v.toFixed(5);
          })
      );
    priceAxis.select(".domain").remove();
    priceAxis.attr("font-family", AXIS_FONT).attr("font-size", 17).selectAll("text").attr("fill", "#131722");

    const rsiAxis = svg.append("g").attr("transform", `translate(${PANE.right},0)`)
      .call(d3.axisRight(yRsi).tickValues(RSI_TICKS).tickSize(0).tickPadding(14).tickFormat((d) => (+d).toFixed(2)));
    rsiAxis.select(".domain").remove();
    rsiAxis.attr("font-family", AXIS_FONT).attr("font-size", 17).selectAll("text").attr("fill", "#131722");

    // time axis
    const timeAxis = svg.append("g").attr("clip-path", "url(#time)").append("g")
      .attr("transform", `translate(0,${PANE.timeTop + 10})`)
      .call(
        d3.axisBottom(x).tickValues(TIME_TICKS).tickSize(0).tickPadding(4)
          .tickFormat((_, i) => TIME_LABELS[i])
      );
    timeAxis.select(".domain").remove();
    timeAxis.attr("font-family", AXIS_FONT).attr("font-size", 17).selectAll("text").attr("fill", "#131722");

    // axis badges
    const badge = (py: number, label: string, fill: string, color: string, w = 84) => {
      svg.append("rect").attr("x", PANE.right + 1).attr("y", py - 13.5).attr("width", w).attr("height", 27).attr("rx", 2).attr("fill", fill);
      svg.append("text").attr("x", PANE.right + 14).attr("y", py).attr("dominant-baseline", "central")
        .attr("font-family", AXIS_FONT).attr("font-size", 17).attr("fill", color).text(label);
    };
    svg.append("rect").attr("x", PANE.right + 1).attr("y", 975).attr("width", 90).attr("height", 46).attr("fill", "#fff");
    svg.append("rect").attr("x", 2950).attr("y", 975).attr("width", 74).attr("height", 26).attr("fill", "#fff");
    svg.append("text").attr("x", 3038).attr("y", 987).attr("dominant-baseline", "central").attr("font-family", AXIS_FONT).attr("font-size", 17).attr("fill", "#131722").text("0.03141");
    svg.append("text").attr("x", 3038).attr("y", 1009).attr("dominant-baseline", "central").attr("font-family", AXIS_FONT).attr("font-size", 16).attr("fill", "#4a4d57").text("2d 22h");
    svg.append("text").attr("x", 3017).attr("y", 987).attr("text-anchor", "end").attr("dominant-baseline", "central").attr("font-family", AXIS_FONT).attr("font-size", 17).attr("fill", "#131722").text("ETHBTC");
    badge(y(TOP_LINE.price), "0.08837", RED, "#fff");
    badge(961, "0.03209", ORANGE, "#131722");
    badge(1034, "0.02872", RED, "#fff");
    badge(y(BOTTOM_LINE.price), "0.01615", RED, "#fff");
    badge(y(734), "0.00734", "#e3effd", "#131722");
    svg.append("rect").attr("x", 2958).attr("y", y(734) - 13.5).attr("width", 66).attr("height", 27).attr("rx", 2).attr("fill", "#e3effd");
    svg.append("text").attr("x", 3017).attr("y", y(734)).attr("text-anchor", "end").attr("dominant-baseline", "central")
      .attr("font-family", UI_FONT).attr("font-size", 17).attr("fill", "#131722").text("最低价");
    badge(1570, "78.18K", "#26a69a", "#fff", 78);
    badge(yRsi(60.61), "60.61", BLUE, "#fff", 58);

    // currency button
    svg.append("rect").attr("x", 3030).attr("y", 47).attr("width", 90).attr("height", 38).attr("rx", 6)
      .attr("fill", "#fff").attr("stroke", "#f0f3fa").attr("stroke-width", 1.5);
    svg.append("text").attr("x", 3044).attr("y", 65).attr("dominant-baseline", "central")
      .attr("font-family", AXIS_FONT).attr("font-size", 16).attr("fill", "#131722").text("BTC");

    // header
    svg.append("text").attr("x", 16).attr("y", 23).attr("dominant-baseline", "central")
      .attr("font-family", UI_FONT).attr("font-size", 17.3).attr("fill", "#131722")
      .text("lengbingqi与TradingView.com共创，8月 21, 2026 10:07 UTC+8");
    svg.append("text").attr("x", 28).attr("y", 63).attr("dominant-baseline", "central").style("white-space", "pre")
      .attr("font-family", UI_FONT).attr("font-size", 17.7).attr("fill", "#131722")
      .text("以太坊/比特币 · 1周 · Binance  开=0.02983  高=0.03342  低=0.02945  收=0.03141  +0.00158 (+5.30%)");

    // logo
    const logo = svg.append("g").attr("fill", "#131722");
    logo.append("path").attr("d", "M17.5 1995H36V2017H27V2003.5H17.5Z");
    logo.append("circle").attr("cx", 42.5).attr("cy", 1999.3).attr("r", 4.3);
    logo.append("path").attr("d", "M52.5 1995H63L53 2017H42.5Z");
    svg.append("text").attr("x", 73).attr("y", 2006).attr("dominant-baseline", "central")
      .attr("font-family", "Inter, 'Noto Sans', sans-serif").attr("font-weight", 600).attr("font-size", 31)
      .attr("letter-spacing", -0.7).attr("fill", "#131722").text("TradingView");

    // watermark
    const wm = svg.append("g").attr("fill", "none").attr("stroke", "#c4c4c4").attr("stroke-width", 1.5);
    wm.append("path").attr("d", "M2968 2013L2983 2027L2968 2041L2953 2027Z");
    wm.append("path").attr("d", "M2968 2020L2975 2027L2968 2034L2961 2027Z");
    svg.append("text").attr("x", 2986).attr("y", 2025).attr("dominant-baseline", "central")
      .attr("font-family", "'Noto Sans CJK SC', sans-serif").attr("font-size", 24)
      .attr("fill", "#e4e4e4").attr("stroke", "#bdbdbd").attr("stroke-width", 0.5).text("@ 潇潇冷兵器");
  }, []);

  return (
    <svg
      ref={svgRef}
      width={WIDTH}
      height={HEIGHT}
      style={{ position: "absolute", left: 0, top: 0, display: "block" }}
    />
  );
}
